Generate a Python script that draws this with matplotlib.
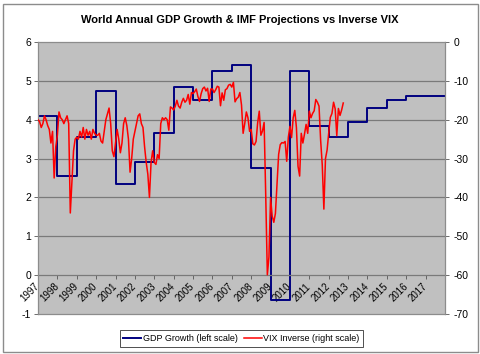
import matplotlib
matplotlib.use("Agg")
import matplotlib.pyplot as plt
from matplotlib.patches import Rectangle

plt.rcParams['font.family'] = ['Liberation Sans', 'DejaVu Sans']

# ---- data ----
years = [1997, 1998, 1999, 2000, 2001, 2002, 2003, 2004, 2005, 2006, 2007,
         2008, 2009, 2010, 2011, 2012, 2013, 2014, 2015, 2016, 2017]
gdp_growth = [4.1, 2.55, 3.55, 4.75, 2.35, 2.9, 3.65, 4.85, 4.5, 5.25, 5.4,
              2.75, -0.65, 5.25, 3.85, 3.55, 3.95, 4.3, 4.5, 4.6, 4.6]
gdp_end_year = 2018

vix_start_year = 1997  # first monthly point (Dec 1996 close)
vix_inverse = [
    -20.0,
    # 1997
    -20.5, -22.0, -21.0, -19.0, -20.0, -21.5, -22.5, -26.0, -23.0, -35.0, -27.0, -24.0,
    # 1998
    -18.0, -19.5, -20.0, -21.0, -20.0, -19.0, -21.0, -44.0, -36.0, -28.0, -25.0, -24.5,
    # 1999
    -25.0, -23.0, -24.5, -22.0, -25.0, -22.5, -24.0, -23.0, -25.0, -22.5, -23.5, -24.0,
    # 2000
    -24.0, -23.5, -25.5, -26.0, -23.0, -20.0, -18.5, -17.0, -21.0, -28.0, -29.5, -26.0,
    # 2001
    -22.5, -25.0, -28.5, -26.0, -21.0, -19.5, -21.5, -25.0, -33.5, -30.0, -25.0, -23.0,
    # 2002
    -21.0, -19.0, -18.5, -21.0, -22.0, -27.0, -31.0, -34.0, -40.0, -31.0, -28.0, -31.0,
    # 2003
    -31.5, -29.0, -30.0, -21.0, -19.5, -20.0, -19.5, -20.0, -22.7, -16.7, -17.0, -17.5,
    # 2004
    -16.5, -15.0, -16.5, -17.0, -15.5, -14.5, -15.5, -15.0, -13.5, -16.0, -13.0, -13.3,
    # 2005
    -12.8, -12.1, -14.0, -15.3, -13.3, -12.0, -11.6, -12.6, -11.9, -15.3, -12.1, -12.1,
    # 2006
    -13.0, -12.3, -11.4, -11.6, -16.4, -13.1, -15.0, -12.3, -12.0, -11.1, -10.9, -11.6,
    # 2007
    -10.4, -15.4, -14.6, -14.2, -13.0, -16.2, -23.5, -21.0, -18.0, -19.5, -23.0, -22.5,
    # 2008
    -26.2, -26.5, -25.6, -20.8, -17.8, -24.0, -22.9, -20.7, -39.4, -59.9, -55.3, -40.0,
    # 2009
    -44.8, -46.4, -44.1, -36.5, -28.9, -26.4, -25.9, -26.0, -25.6, -30.7, -24.5, -21.7,
    # 2010
    -24.6, -19.5, -17.6, -22.0, -32.0, -34.5, -23.5, -26.0, -23.7, -21.2, -23.5, -17.8,
    # 2011
    -19.5, -18.4, -17.7, -14.8, -15.5, -16.5, -25.3, -31.6, -43.0, -30.0, -27.8, -23.4,
    # 2012
    -19.4, -18.4, -15.5, -17.2, -24.1, -17.1, -18.9, -17.5, -15.7,
]

left_ticks = [-1, 0, 1, 2, 3, 4, 5, 6]
right_ticks = [-70, -60, -50, -40, -30, -20, -10, 0]

title = "World Annual GDP Growth & IMF Projections vs Inverse VIX"
gdp_label = "GDP Growth (left scale)"
vix_label = "VIX Inverse (right scale)"

# ---- figure ----
fig = plt.figure(figsize=(4.8, 3.54), dpi=100)
fig.patch.set_facecolor('white')
fig.patches.append(Rectangle((2.5 / 480, 2.5 / 354), 475 / 480, 348 / 354,
                             transform=fig.transFigure, fill=False,
                             edgecolor='#8c8c8c', linewidth=1.0))

ax = fig.add_axes([38 / 480, 1 - 314 / 354, 407 / 480, 272 / 354])
ax.set_facecolor('#C0C0C0')
ax.set_xlim(1997, 2018)
ax.set_ylim(-1, 6)
ax.set_yticks(left_ticks)
ax.set_yticklabels([str(t) for t in left_ticks])
for v in range(1, 6):
    ax.axhline(v, color='#7a7a7a', linewidth=0.9, zorder=0.5)

for s in ['left', 'right', 'top']:
    ax.spines[s].set_visible(False)
ax.spines['bottom'].set_position(('data', 0))
ax.spines['bottom'].set_color('#7a7a7a')
ax.spines['bottom'].set_linewidth(0.9)

ax.set_xticks(years)
ax.set_xticklabels([str(y) for y in years], rotation=45, ha='right',
                   va='center', rotation_mode='anchor')
ax.tick_params(axis='x', direction='out', length=3, width=0.6, colors='#555555',
               labelcolor='black', labelsize=7, pad=4)
ax.tick_params(axis='y', direction='out', length=3, width=0.6, colors='#555555',
               labelcolor='black', labelsize=7.5, pad=2)

gx = years + [gdp_end_year]
gy = gdp_growth + [gdp_growth[-1]]
line1, = ax.step(gx, gy, where='post', color='#000080', linewidth=1.4,
                 label=gdp_label, zorder=2)

ax2 = ax.twinx()
ax2.set_ylim(-70, 0)
ax2.set_yticks(right_ticks)
ax2.set_yticklabels([str(t) for t in right_ticks])
ax2.tick_params(axis='y', direction='out', length=3, width=0.6, colors='#555555',
                labelcolor='black', labelsize=7.5, pad=3)
for s in ax2.spines.values():
    s.set_color('#8c8c8c')
    s.set_linewidth(0.9)

vx = [vix_start_year + i / 12 for i in range(len(vix_inverse))]
line2, = ax2.plot(vx, vix_inverse, color='#FF0000', linewidth=1.1,
                  label=vix_label, zorder=3)

fig.text(0.5, 1 - 20 / 354, title, ha='center', va='center',
         fontsize=8, fontweight='bold')

leg = fig.legend([line1, line2], [gdp_label, vix_label], ncol=2,
                 loc='center', bbox_to_anchor=(241.5 / 480, 1 - 338.5 / 354),
                 fontsize=6.5, frameon=True, fancybox=False, edgecolor='black',
                 handlelength=2.0, handletextpad=0.2, columnspacing=0.6,
                 borderpad=0.4, borderaxespad=0)
leg.get_frame().set_linewidth(0.6)

fig.savefig('out.png', dpi=100)
